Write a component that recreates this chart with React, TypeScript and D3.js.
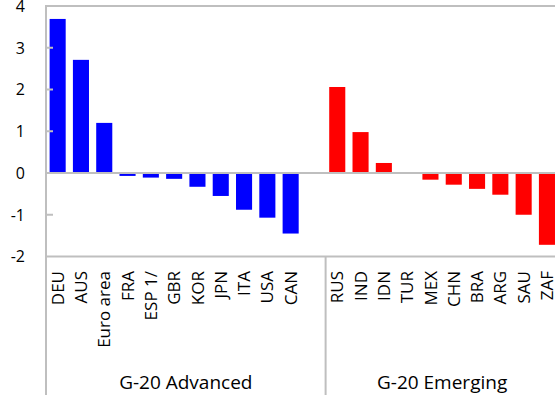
import React from "react";
import * as d3 from "d3";

const advCategories = ["DEU", "AUS", "Euro area", "FRA", "ESP 1/", "GBR", "KOR", "JPN", "ITA", "USA", "CAN"];
const advValues = [3.69, 2.71, 1.2, -0.07, -0.11, -0.14, -0.33, -0.55, -0.88, -1.07, -1.45];
const emCategories = ["RUS", "IND", "IDN", "TUR", "MEX", "CHN", "BRA", "ARG", "SAU", "ZAF"];
const emValues = [2.06, 0.98, 0.24, 0.0, -0.16, -0.28, -0.38, -0.52, -1.0, -1.72];
const yTicks = [-2, -1, 0, 1, 2, 3, 4];
const groupLabels = ["G-20 Advanced", "G-20 Emerging"];

const W = 555;
const H = 395;
const GRAY = "#bfbfbf";
const FONT = "'Open Sans', 'DejaVu Sans', sans-serif";

export default function App() {
  // slots: advanced (11) + one blank slot, then emerging (10)
  const slots = [
    ...advCategories.map((c) => "a:" + c),
    "blank",
    ...emCategories.map((c) => "e:" + c),
  ];
  const left = 46;
  const step = 23.3;
  const x = d3
    .scaleBand<string>()
    .domain(slots)
    .range([left, left + slots.length * step])
    .paddingInner(0.31)
    .paddingOuter(0.155);
  const y = d3.scaleLinear().domain([-2, 4]).range([256.5, 6]);

  const bars = [
    ...advCategories.map((c, i) => ({ key: "a:" + c, label: c, v: advValues[i], color: "#0000ff" })),
    ...emCategories.map((c, i) => ({ key: "e:" + c, label: c, v: emValues[i], color: "#ff0000" })),
  ];

  const sepX = (x("blank") as number) + x.step() - (x.step() - x.bandwidth()) / 2;
  const rightEnd = left + slots.length * step;
  const advCenter = (left + sepX) / 2;
  const emCenter = (sepX + rightEnd) / 2;
  const labelTop = 271;

  return (
    <svg
      width={W}
      height={H}
      style={{ position: "fixed", left: 0, top: 0, background: "#fff" }}
      fontFamily={FONT}
    >
      {bars.map((b) => (
        <rect
          key={b.key}
          x={x(b.key)}
          width={x.bandwidth()}
          y={Math.min(y(b.v), y(0))}
          height={Math.abs(y(b.v) - y(0))}
          fill={b.color}
        />
      ))}
      <line x1={left} x2={W} y1={y(4)} y2={y(4)} stroke={GRAY} strokeWidth={2} />
      <line x1={left} x2={W} y1={y(-2)} y2={y(-2)} stroke={GRAY} strokeWidth={2} />
      <line x1={left} x2={W} y1={y(0)} y2={y(0)} stroke={GRAY} strokeWidth={2} />
      <line x1={left} x2={left} y1={y(4) - 1} y2={H} stroke={GRAY} strokeWidth={2} />
      <line x1={sepX} x2={sepX} y1={y(-2)} y2={H} stroke={GRAY} strokeWidth={2} />
      {yTicks
        .filter((t) => t !== 0 && t !== 4 && t !== -2)
        .map((t) => (
          <line key={"tk" + t} x1={left} x2={left + 7} y1={y(t)} y2={y(t)} stroke={GRAY} strokeWidth={2} />
        ))}
      {yTicks.map((t) => (
        <text key={"tl" + t} x={25} y={y(t)} dy="0.36em" textAnchor="end" fontSize={16} fill="#000">
          {t}
        </text>
      ))}
      {bars.map((b) => {
        const cx = (x(b.key) as number) + x.bandwidth() / 2;
        return (
          <text
            key={"cl" + b.key}
            transform={`translate(${cx},${labelTop}) rotate(-90)`}
            dy="0.36em"
            textAnchor="end"
            fontSize={17}
            fill="#000"
          >
            {b.label}
          </text>
        );
      })}
      <text x={advCenter} y={389} textAnchor="middle" fontSize={19} fill="#000">
        {groupLabels[0]}
      </text>
      <text x={emCenter} y={389} textAnchor="middle" fontSize={19} fill="#000">
        {groupLabels[1]}
      </text>
    </svg>
  );
}
